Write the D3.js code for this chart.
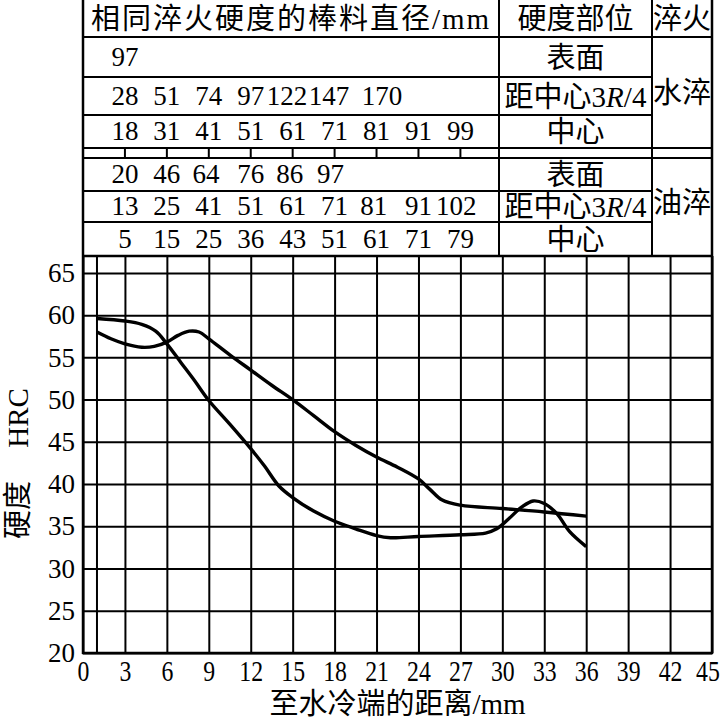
<!DOCTYPE html>
<html>
<head>
<meta charset="utf-8">
<script src="https://cdn.jsdelivr.net/npm/d3@7"></script>
<style>
body{margin:0;background:#fff;}
text{font-family:"Liberation Serif","Noto Sans CJK SC",serif;fill:#000;}
</style>
</head>
<body>
<div id="chart"></div>
<script>
// axis tick labels
var xTicks = [0,3,6,9,12,15,18,21,24,27,30,33,36,39,42,45];
var yTicks = [20,25,30,35,40,45,50,55,60,65];
var extraGrid = [1];   // first measuring point from the quenched end

// hardness curves, [distance mm, HRC]
var curve1 = [[1,59.6],[3,59.3],[4.2,58.9],[5.2,58.1],[6,56.6],[7,54.4],[8,52.2],[9,49.9],
  [10.5,47.1],[12,44.2],[13,42.1],[14,39.8],[15,38.4],[16.5,36.8],[18,35.6],[19.5,34.7],
  [21,33.9],[22,33.65],[24,33.8],[27,34.0],[28.8,34.2],[29.6,34.7],[30.4,35.8],[31.4,37.3],
  [32.2,38.0],[33,37.7],[33.9,36.5],[34.8,34.4],[36,32.6]];
var curve2 = [[1,58.0],[2,57.2],[3,56.6],[4.2,56.2],[5.1,56.3],[6,56.8],[6.8,57.6],[7.6,58.1],
  [8.3,58.0],[9,57.2],[10.5,55.3],[12,53.5],[13.5,51.7],[15,50],[16.5,48.1],[18,46.2],
  [19.5,44.6],[21,43.2],[22.5,42.0],[24,40.6],[24.8,39.4],[25.7,38.1],[27,37.5],[30,37.1],
  [33,36.7],[36,36.2]];

// bar diameters (mm) with the same hardness, and the distance they sit over
var waterSurfaceDia = [97];
var waterSurfaceAt  = [3];
var waterQuarterDia = [28,51,74,97,122,147,170];
var waterQuarterAt  = [3,6,9,12,14.6,17.6,21.4];
var waterCenterDia  = [18,31,41,51,61,71,81,91,99];
var waterCenterAt   = [3,6,9,12,15,18,21,24,27];
var oilSurfaceDia   = [20,46,64,76,86,97];
var oilSurfaceAt    = [3,6,8.8,12,14.8,17.7];
var oilQuarterDia   = [13,25,41,51,61,71,81,91,102];
var oilQuarterAt    = [3,6,9,12,15,18,20.8,24,26.7];
var oilCenterDia    = [5,15,25,36,43,51,61,71,79];
var oilCenterAt     = [3,6,9,12,15,18,21,24,27];
var stripTicks      = [3,6,9,12,15,18,21,24,27];

var W = 720, H = 724;
var left = 83, right = 712, plotTop = 256, plotBottom = 653;
var col1 = 499, col2 = 652;

var svg = d3.select("#chart").append("svg")
  .attr("width", W).attr("height", H);

var x = d3.scaleLinear().domain([0,45]).range([left, right]);
var y = d3.scaleLinear().domain([20,67]).range([plotBottom, plotTop]);

// grid + y labels
var gy = svg.append("g")
  .attr("transform", "translate(" + left + ",0)")
  .attr("font-family", null).attr("font-size", null)
  .call(d3.axisLeft(y).tickValues(yTicks).tickSize(-(right-left)).tickPadding(8));
gy.select(".domain").remove();
gy.selectAll("line").attr("stroke", "#000").attr("stroke-width", 2);
gy.selectAll("text").attr("font-size", 27);

// grid + x labels (type in the source is a bit condensed)
var gx = svg.append("g")
  .attr("transform", "translate(0," + plotBottom + ")")
  .attr("font-family", null).attr("font-size", null)
  .call(d3.axisBottom(x).tickValues(xTicks).tickSize(-(plotBottom-plotTop)).tickPadding(7));
gx.select(".domain").remove();
gx.selectAll("line").attr("stroke", "#000").attr("stroke-width", 2);
gx.selectAll("text").attr("font-size", 29).attr("transform", "scale(0.82,1)");
gx.selectAll("text").filter(d => d === 45)
  .attr("text-anchor", "end").attr("x", 9);

svg.selectAll(".extra").data(extraGrid).enter().append("line")
  .attr("x1", d => x(d)).attr("x2", d => x(d))
  .attr("y1", plotTop).attr("y2", plotBottom)
  .attr("stroke", "#000").attr("stroke-width", 2);

// curves
var line = d3.line()
  .x(d => x(d[0])).y(d => y(d[1]))
  .curve(d3.curveCatmullRom.alpha(0.5));
[curve1, curve2].forEach(function(c){
  svg.append("path").datum(c)
    .attr("d", line)
    .attr("fill", "none").attr("stroke", "#000")
    .attr("stroke-width", 3.4).attr("stroke-linejoin", "round");
});

// table frame
function hline(yy, x1, x2, w){
  svg.append("line").attr("x1", x1).attr("x2", x2).attr("y1", yy).attr("y2", yy)
    .attr("stroke", "#000").attr("stroke-width", w || 2);
}
function vline(xx, y1, y2, w){
  svg.append("line").attr("x1", xx).attr("x2", xx).attr("y1", y1).attr("y2", y2)
    .attr("stroke", "#000").attr("stroke-width", w || 2);
}
vline(left, 0, plotBottom + 1, 2.5);
vline(right, 0, plotBottom + 1, 2.5);
vline(col1, 0, plotTop);
vline(col2, 0, plotTop);
[37, 148, 158].forEach(v => hline(v, left, right));
[77, 115, 191, 222].forEach(v => hline(v, left, col2));
hline(plotTop, left, right, 2.5);
hline(plotBottom, left - 1, right + 1, 2.5);

svg.selectAll(".strip").data(stripTicks).enter().append("line")
  .attr("x1", d => x(d)).attr("x2", d => x(d))
  .attr("y1", 148).attr("y2", 158)
  .attr("stroke", "#000").attr("stroke-width", 2);

// header
function label(txt, cx, cy, size){
  return svg.append("text").attr("x", cx).attr("y", cy)
    .attr("text-anchor", "middle").attr("font-size", size || 29).text(txt);
}
label("相同淬火硬度的棒料直径/mm", (left + col1) / 2, 29).attr("letter-spacing", 2);
label("硬度部位", (col1 + col2) / 2, 29);
label("淬火", (col2 + right) / 2, 29);
label("水淬", (col2 + right) / 2, 103);
label("油淬", (col2 + right) / 2, 213);

var rows = [
  {part: "表面", dia: waterSurfaceDia, at: waterSurfaceAt, cy: 57},
  {part: "q",    dia: waterQuarterDia, at: waterQuarterAt, cy: 96},
  {part: "中心", dia: waterCenterDia,  at: waterCenterAt,  cy: 131},
  {part: "表面", dia: oilSurfaceDia,   at: oilSurfaceAt,   cy: 174},
  {part: "q",    dia: oilQuarterDia,   at: oilQuarterAt,   cy: 206},
  {part: "中心", dia: oilCenterDia,    at: oilCenterAt,    cy: 239}
];
rows.forEach(function(r){
  var t = svg.append("text").attr("x", (col1 + col2) / 2).attr("y", r.cy + 11)
    .attr("text-anchor", "middle").attr("font-size", 29);
  if (r.part === "q") {
    t.append("tspan").text("距中心");
    t.append("tspan").text("3");
    t.append("tspan").attr("font-style", "italic").text("R");
    t.append("tspan").text("/4");
  } else {
    t.text(r.part);
  }
  svg.selectAll(null).data(r.dia).enter().append("text")
    .attr("x", (d, i) => x(r.at[i]))
    .attr("y", r.cy + 9)
    .attr("text-anchor", "middle").attr("font-size", 27)
    .text(d => d);
});

// axis titles
label("至水冷端的距离/mm", (left + right) / 2, 714);
svg.append("text").attr("transform", "translate(28,510) rotate(-90)")
  .attr("text-anchor", "middle").attr("font-size", 29).text("硬度");
svg.append("text").attr("transform", "translate(28,418) rotate(-90)")
  .attr("text-anchor", "middle").attr("font-size", 29).text("HRC");
</script>
</body>
</html>
